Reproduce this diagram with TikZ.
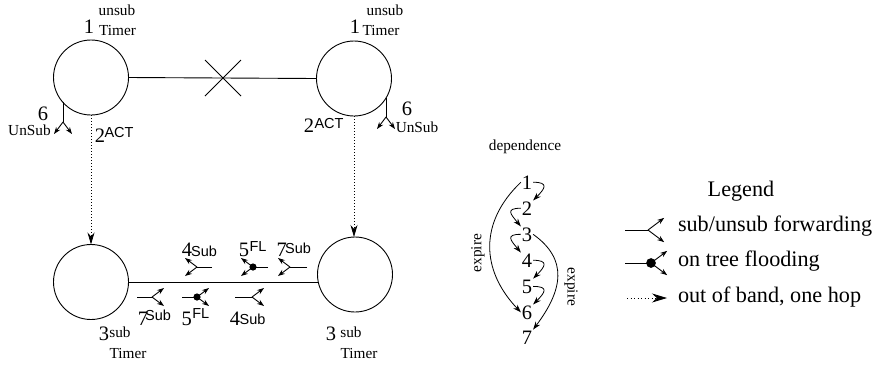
\documentclass[tikz,border=0pt]{standalone}
\usepackage{fontspec}
\setmainfont{Liberation Serif}
\newfontfamily\sansfnt{Liberation Sans}
\usetikzlibrary{arrows.meta,calc}
\tikzset{
  every node/.style={inner sep=0pt, outer sep=0pt},
  ring/.style={circle, draw, line width=0.9pt, minimum size=75pt},
  digit/.style={font=\fontsize{20.5}{21}\selectfont, anchor=base},
  smalltxt/.style={font=\fontsize{15.3}{16}\selectfont, anchor=base},
  sanstxt/.style={font=\sansfnt\fontsize{14.5}{15}\selectfont, anchor=base},
  legtxt/.style={font=\fontsize{22.2}{23}\selectfont, anchor=base west},
  fwdtip/.style={-{Stealth[length=7pt,width=5pt]}},
  deptip/.style={line width=0.8pt,-{Stealth[length=8pt,width=5.5pt]}},
  oob/.style={line width=0.8pt, dash pattern=on 1pt off 2pt, -{Stealth[length=12pt,width=7pt]}},
  pics/fwd/.style={code={
    \draw[line width=0.9pt] (#1,0) -- (0,0);
    \draw[line width=0.9pt,fwdtip] (0,0) -- (-12,9);
    \draw[line width=0.9pt,fwdtip] (0,0) -- (-12,-9);
  }},
  pics/flood/.style={code={
    \draw[line width=0.9pt] (#1,0) -- (0,0);
    \fill (0,0) circle[radius=3.6pt];
    \draw[line width=0.9pt,fwdtip] (0,0) -- (-12,9);
    \draw[line width=0.9pt,fwdtip] (0,0) -- (-12,-9);
  }},
}
\begin{document}
\begin{tikzpicture}[x=1pt,y=-1pt,line width=0.9pt]
\useasboundingbox (0,0) rectangle (875,365);
% routers
\node[ring] (tl) at (91,77.5) {};
\node[ring] (tr) at (354,78.5) {};
\node[ring] (bl) at (91,282) {};
\node[ring] (br) at (355,274.5) {};
% links
\draw (tl.east) -- (tr.west);
\coordinate (xm) at (223,78);
\draw (xm) +(-18,-18) -- +(18,18);
\draw (xm) +(-18,18) -- +(18,-18);
\draw (bl.east) -- (bl.east -| br.west);
% out of band
\draw[oob] (tl.south) -- (bl.north);
\draw[oob] (tr.south) -- (tr.south |- br.north);
% top forwarding
\pic[rotate=90] at (63,122) {fwd=20};
\pic[rotate=90] at (386,117) {fwd=19};
% bottom forwarding
\pic at (197,267) {fwd=15};
\pic at (253,267) {flood=15};
\pic at (290,267) {fwd=17};
\pic[rotate=180] at (152,297) {fwd=15};
\pic[rotate=180] at (197,297) {flood=15};
\pic[rotate=180] at (252,297) {fwd=17};
% labels top-left
\node[digit] at (89,33) {1};
\node[smalltxt] at (117,15) {unsub};
\node[smalltxt] at (117.5,35) {Timer};
\node[digit] at (43,120) {6};
\node[smalltxt] at (29.5,135) {UnSub};
\node[digit] at (100,142) {2};
\node[sanstxt] at (119,137) {ACT};
% labels top-right
\node[digit] at (355,33) {1};
\node[smalltxt] at (385,15) {unsub};
\node[smalltxt] at (381,35) {Timer};
\node[digit] at (407,115) {6};
\node[smalltxt] at (417,132) {UnSub};
\node[digit] at (309,132) {2};
\node[sanstxt] at (329,128) {ACT};
% labels bottom
\node[digit] at (104,340) {3};
\node[smalltxt] at (120,337) {sub};
\node[smalltxt] at (128,358) {Timer};
\node[digit] at (331,340) {3};
\node[smalltxt] at (351,337) {sub};
\node[smalltxt] at (359,358) {Timer};
% bottom link labels
\node[digit] at (187,256) {4}; \node[sanstxt] at (204,256) {Sub};
\node[digit] at (244,256.7) {5}; \node[sanstxt] at (258,251.7) {FL};
\node[digit] at (281.7,256) {7}; \node[sanstxt] at (298,253) {Sub};
\node[digit] at (143,325) {7}; \node[sanstxt] at (158,320) {Sub};
\node[digit] at (186.7,325) {5}; \node[sanstxt] at (200.8,318) {FL};
\node[digit] at (235,325) {4}; \node[sanstxt] at (252.5,324) {Sub};
% dependence
\node[smalltxt] at (525,150.7) {dependence};
\node[digit,inner sep=1pt] (d1) at (527,189) {1};
\node[digit,inner sep=1pt] (d2) at (527,215) {2};
\node[digit,inner sep=1pt] (d3) at (527,241) {3};
\node[digit,inner sep=1pt] (d4) at (527,267) {4};
\node[digit,inner sep=1pt] (d5) at (527,293) {5};
\node[digit,inner sep=1pt] (d6) at (527,319) {6};
\node[digit,inner sep=1pt] (d7) at (527,344) {7};
\draw[deptip] (d1.east) .. controls +(16,0) and +(12,-12) .. (d2.north east);
\draw[deptip] (d2.west) .. controls +(-16,0) and +(-10,-12) .. (d3.north west);
\draw[deptip] (d3.west) .. controls +(-16,0) and +(-10,-12) .. (d4.north west);
\draw[deptip] (d4.east) .. controls +(16,0) and +(12,-12) .. (d5.north east);
\draw[deptip] (d5.east) .. controls +(16,0) and +(12,-12) .. (d6.north east);
\draw[deptip] (d1.west) .. controls +(-42,40) and +(-40,-42) .. (d6.west);
\draw[deptip] (d3.east) .. controls +(35,25) and +(30,-40) .. (d7.north east);
\node[smalltxt,anchor=center,rotate=90] at (478,253) {expire};
\node[smalltxt,anchor=center,rotate=-90] at (571,287) {expire};
% legend
\node[legtxt,anchor=base] at (741,196.7) {Legend};
\pic[rotate=180,scale=1.35] at (648,230) {fwd=17};
\pic[rotate=180,scale=1.35] at (651,263) {flood=19};
\coordinate (la) at (627,298);
\coordinate (lb) at (667,298);
\draw[line width=0.8pt, dash pattern=on 1pt off 2.5pt, -{Stealth[length=15pt,width=9pt]}] (la) -- (lb);
\node[legtxt] at (678,231.7) {sub/unsub forwarding};
\node[legtxt] at (678,266.7) {on tree flooding};
\node[legtxt] at (678,302.7) {out of band, one hop};
\end{tikzpicture}
\end{document}
